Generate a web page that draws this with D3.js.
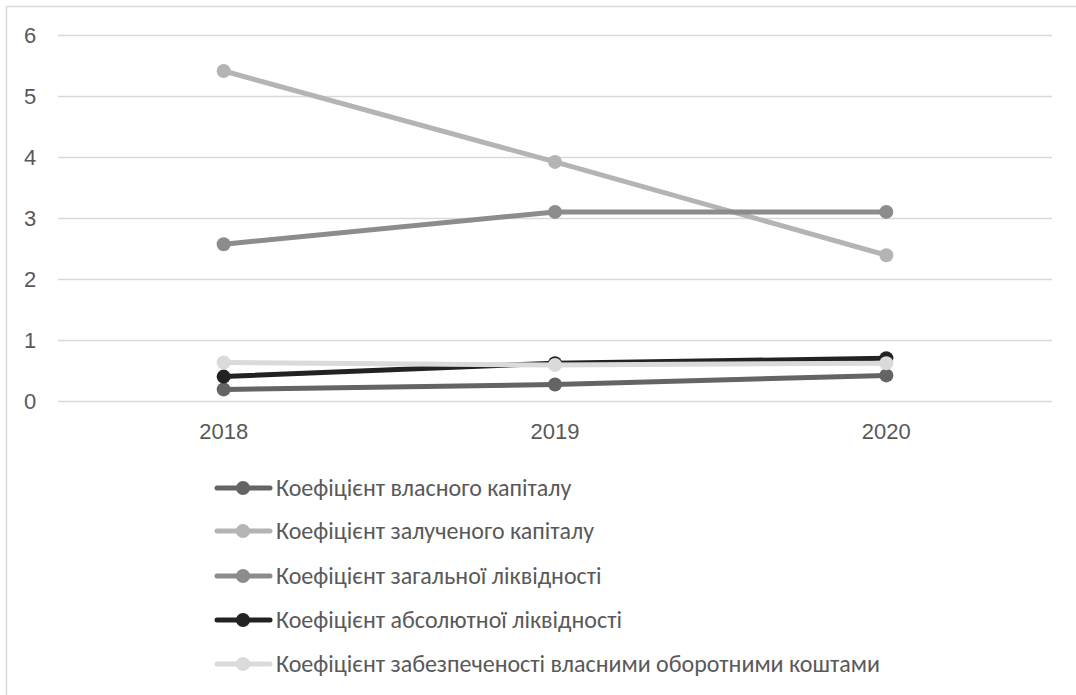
<!DOCTYPE html>
<html>
<head>
<meta charset="utf-8">
<script src="https://cdn.jsdelivr.net/npm/d3@7"></script>
<style>
  html, body { margin: 0; padding: 0; background: #fff; }
  svg { display: block; font-family: Carlito, Calibri, "Liberation Sans", "Open Sans", sans-serif; }
</style>
</head>
<body>
<svg id="chart" width="1076" height="695"></svg>
<script>
// Years on the category axis
const years = ["2018", "2019", "2020"];

// Ratio values per series, one per year
const ownCapital = [0.19, 0.27, 0.42];
const borrowedCapital = [5.41, 3.92, 2.39];
const generalLiquidity = [2.57, 3.10, 3.10];
const absoluteLiquidity = [0.40, 0.62, 0.70];
const workingCapitalCoverage = [0.63, 0.59, 0.62];

const seriesNames = [
  "Коефіцієнт власного капіталу",
  "Коефіцієнт залученого капіталу",
  "Коефіцієнт загальної ліквідності",
  "Коефіцієнт абсолютної ліквідності",
  "Коефіцієнт забезпеченості власними оборотними коштами"
];
const seriesValues = [ownCapital, borrowedCapital, generalLiquidity, absoluteLiquidity, workingCapitalCoverage];
const seriesColors = ["#646464", "#b4b4b4", "#8c8c8c", "#222222", "#dadada"];

const yTicks = [0, 1, 2, 3, 4, 5, 6];

const svg = d3.select("#chart");

// Chart frame
svg.append("path")
  .attr("d", "M6.5,695 V6.5 H1076")
  .attr("fill", "none")
  .attr("stroke", "#d9d9d9")
  .attr("stroke-width", 1.5);

const plot = { left: 58, right: 1052, top: 35, bottom: 401 };

const x = d3.scaleBand().domain(years).range([plot.left, plot.right]);
const y = d3.scaleLinear().domain([0, 6]).range([plot.bottom, plot.top]);

// Horizontal gridlines
svg.append("g")
  .selectAll("line")
  .data(yTicks)
  .join("line")
  .attr("x1", plot.left)
  .attr("x2", plot.right)
  .attr("y1", d => Math.round(y(d)) + 0.5)
  .attr("y2", d => Math.round(y(d)) + 0.5)
  .attr("stroke", "#d9d9d9")
  .attr("stroke-width", 1.5);

// Y axis labels
const yAxis = d3.axisLeft(y).tickValues(yTicks).tickSize(0).tickPadding(0).tickFormat(d3.format("d"));
const gy = svg.append("g").attr("transform", `translate(30,0)`).call(yAxis);
gy.select(".domain").remove();
gy.selectAll("text")
  .attr("fill", "#595959")
  .attr("font-size", 22)
  .attr("text-anchor", "middle")
  .attr("dy", "0.33em");

// X axis labels
const xAxis = d3.axisBottom(x).tickSize(0).tickPadding(0);
const gx = svg.append("g").attr("transform", `translate(0,${plot.bottom + 31})`).call(xAxis);
gx.select(".domain").remove();
gx.selectAll("text")
  .attr("fill", "#595959")
  .attr("font-size", 22)
  .attr("dy", "0.33em");

const cx = d => x(d) + x.bandwidth() / 2;

const line = d3.line()
  .x((d, i) => cx(years[i]))
  .y(d => y(d));

// Series lines and markers
seriesValues.forEach((vals, si) => {
  const g = svg.append("g");
  g.append("path")
    .datum(vals)
    .attr("d", line)
    .attr("fill", "none")
    .attr("stroke", seriesColors[si])
    .attr("stroke-width", 5)
    .attr("stroke-linejoin", "round")
    .attr("stroke-linecap", "round");
  g.selectAll("circle")
    .data(vals)
    .join("circle")
    .attr("cx", (d, i) => cx(years[i]))
    .attr("cy", d => y(d))
    .attr("r", 7)
    .attr("fill", seriesColors[si]);
});

// Legend
const legend = svg.append("g");
const legendY = [488, 531, 576, 620, 664];
seriesNames.forEach((name, i) => {
  const row = legend.append("g").attr("transform", `translate(0,${legendY[i]})`);
  row.append("line")
    .attr("x1", 217).attr("x2", 270)
    .attr("y1", 0).attr("y2", 0)
    .attr("stroke", seriesColors[i])
    .attr("stroke-width", 5)
    .attr("stroke-linecap", "round");
  row.append("circle")
    .attr("cx", 243).attr("cy", 0).attr("r", 7)
    .attr("fill", seriesColors[i]);
  row.append("text")
    .attr("x", 276).attr("y", 0)
    .attr("dy", "0.35em")
    .attr("fill", "#595959")
    .attr("font-size", 24)
    .text(name);
});
</script>
</body>
</html>
